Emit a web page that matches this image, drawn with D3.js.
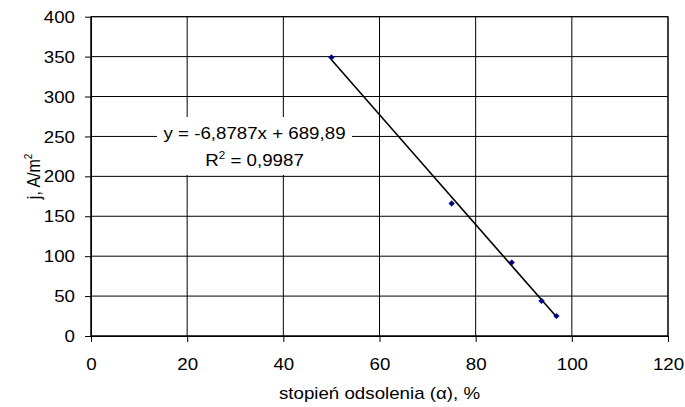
<!DOCTYPE html>
<html>
<head>
<meta charset="utf-8">
<script src="https://cdn.jsdelivr.net/npm/d3@7/dist/d3.min.js"></script>
<style>
  html, body { margin: 0; padding: 0; background: #fff; }
  svg { display: block; }
  text { font-family: "Liberation Sans", Arial, sans-serif; fill: #000; }
</style>
</head>
<body>
<svg id="chart" width="685" height="407"></svg>
<script>
// Measurements: desalination degree (%) vs current density (A/m²)
const desalination = [50, 75, 87.5, 93.7, 96.8];
const currentDensity = [349, 166, 92, 44, 25];

// Linear trendline as reported by the fit
const trendSlope = -6.8787;
const trendIntercept = 689.89;
const trendR2 = 0.9987;

const xTicks = [0, 20, 40, 60, 80, 100, 120];
const yTicks = [0, 50, 100, 150, 200, 250, 300, 350, 400];

const xTitle = "stopień odsolenia (α), %";
const yTitleMain = "j, A/m";
const yTitleSup = "2";

const svg = d3.select("#chart");
const plot = { left: 91, right: 668, top: 16.7, bottom: 336 };
const FS = 16;       // font size
const SX = 1.17;     // horizontal widening of glyphs

const x = d3.scaleLinear().domain([0, 120]).range([plot.left, plot.right]);
const y = d3.scaleLinear().domain([0, 400]).range([plot.bottom, plot.top]);

const fmt = v => String(v).replace(".", ",");

// grid
const grid = svg.append("g").attr("stroke", "#000").attr("stroke-width", 1);
grid.selectAll("line.h").data(yTicks).join("line")
  .attr("class", "h")
  .attr("x1", plot.left).attr("x2", plot.right)
  .attr("y1", d => y(d)).attr("y2", d => y(d));
grid.selectAll("line.v").data(xTicks).join("line")
  .attr("class", "v")
  .attr("x1", d => x(d)).attr("x2", d => x(d))
  .attr("y1", plot.top).attr("y2", plot.bottom);

// axes
const xAxis = d3.axisBottom(x).tickValues(xTicks).tickSize(6).tickSizeOuter(0).tickFormat(d => d);
const yAxis = d3.axisLeft(y).tickValues(yTicks).tickSize(6).tickSizeOuter(0).tickFormat(d => d);

const gx = svg.append("g").attr("transform", `translate(0,${plot.bottom})`).call(xAxis);
const gy = svg.append("g").attr("transform", `translate(${plot.left},0)`).call(yAxis);
[gx, gy].forEach(g => {
  g.select(".domain").attr("stroke", "#000");
  g.selectAll(".tick line").attr("stroke", "#000");
  g.selectAll(".tick text").attr("font-size", FS).attr("font-family", "Liberation Sans, Arial, sans-serif").attr("fill", "#000");
});
gx.selectAll(".tick text").attr("y", 0).attr("dy", 0)
  .attr("transform", `translate(0,34) scale(${SX},1)`);
gy.selectAll(".tick text").attr("x", 0).attr("dy", "0.35em")
  .attr("transform", `translate(-16,0) scale(${SX},1)`);

// plot frame
svg.append("rect")
  .attr("x", plot.left).attr("y", plot.top)
  .attr("width", plot.right - plot.left).attr("height", plot.bottom - plot.top)
  .attr("fill", "none").attr("stroke", "#000");

// trendline across the measured range
const xMin = d3.min(desalination), xMax = d3.max(desalination);
svg.append("line")
  .attr("x1", x(xMin)).attr("y1", y(trendSlope * xMin + trendIntercept))
  .attr("x2", x(xMax)).attr("y2", y(trendSlope * xMax + trendIntercept))
  .attr("stroke", "#000").attr("stroke-width", 1.6);

// markers
const pts = desalination.map((d, i) => [d, currentDensity[i]]);
svg.append("g").selectAll("path").data(pts).join("path")
  .attr("d", d3.symbol().type(d3.symbolDiamond2).size(20))
  .attr("transform", d => `translate(${x(d[0])},${y(d[1])})`)
  .attr("fill", "#000080").attr("stroke", "#000080").attr("stroke-width", 0.6);

// trendline equation label
const lab = svg.append("g");
lab.append("rect")
  .attr("x", 157).attr("y", 117).attr("width", 195).attr("height", 58)
  .attr("fill", "#fff");
lab.append("text")
  .attr("transform", `translate(254.5,139.3) scale(${SX},1)`)
  .attr("text-anchor", "middle").attr("font-size", FS)
  .text(`y = ${fmt(trendSlope)}x + ${fmt(trendIntercept)}`);
const r2 = lab.append("text")
  .attr("transform", `translate(254.5,165.7) scale(${SX},1)`)
  .attr("text-anchor", "middle").attr("font-size", FS);
r2.append("tspan").text("R");
r2.append("tspan").attr("font-size", 10).attr("dy", -7).text("2");
r2.append("tspan").attr("dy", 7).text(` = ${fmt(trendR2)}`);

// axis titles
svg.append("text")
  .attr("transform", `translate(${(plot.left + plot.right) / 2},399) scale(${SX},1)`)
  .attr("text-anchor", "middle").attr("font-size", FS)
  .text(xTitle);

const yt = svg.append("text")
  .attr("transform", `translate(40,${(plot.top + plot.bottom) / 2}) scale(${SX},1) rotate(-90)`)
  .attr("text-anchor", "middle").attr("font-size", FS);
yt.append("tspan").text(yTitleMain);
yt.append("tspan").attr("font-size", 10).attr("dy", -7).text(yTitleSup);
</script>
</body>
</html>
